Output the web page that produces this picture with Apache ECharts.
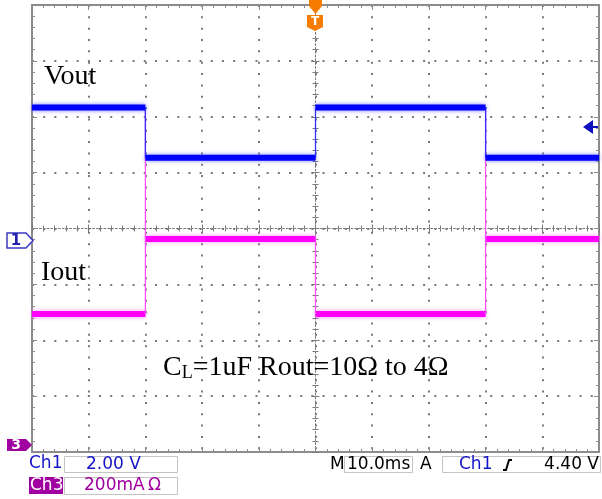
<!DOCTYPE html>
<html><head><meta charset="utf-8">
<script src="https://cdn.jsdelivr.net/npm/echarts@6/dist/echarts.min.js"></script>
<style>html,body{margin:0;padding:0;background:#fff}#c{width:602px;height:499px}</style>
</head><body><div id="c"></div>
<script>
// Segment boundaries, ms (10 ms/div, trigger at 0)
const edgesMs = [-50, -30, 0, 30, 50];
// Ch1: output voltage on each segment, V
const voutV = [4.75, 2.95, 4.75, 2.95];
// Ch3: output current on each segment, A
const ioutA = [0.468, 0.736, 0.468, 0.736];
// Ch3: current peak at each load step, A (null = no overshoot)
const ioutPeakA = [1.2, null, 1.2];

// Channel vertical settings: units per division and ground position in divisions
const ch1 = { scale: 2.0, offset: -0.21 };
const ch3 = { scale: 0.2, offset: -3.87 };

const toDiv = (v, ch) => ch.offset + v / ch.scale;

// Flat levels, broken at each step so the steps can be drawn thin
function levelData(levels, ch) {
  const out = [];
  levels.forEach((v, i) => {
    out.push([edgesMs[i], toDiv(v, ch)], [edgesMs[i + 1], toDiv(v, ch)], [edgesMs[i + 1], null]);
  });
  return out;
}
// Vertical step edges
function stepData(levels, ch, peaks) {
  const out = [];
  for (let j = 1; j < levels.length; j++) {
    const t = edgesMs[j];
    out.push([t, toDiv(levels[j - 1], ch)]);
    if (peaks && peaks[j - 1] != null) out.push([t, toDiv(peaks[j - 1], ch)]);
    out.push([t, toDiv(levels[j], ch)], [t, null]);
  }
  return out;
}

const GRID = '#7a7a7a';
const FRAME = '#8c8c8c';
const BLUE = '#0000ff';
const MAG = '#ff00ff';
const PURPLE = '#a000a0';
const ORANGE = '#f57c00';
const TXTBLUE = '#1414c8';

const frameX = (pos) => ({
  type: 'value', min: -50, max: 50, interval: 10, position: pos,
  axisLine: { show: true, onZero: false, lineStyle: { color: FRAME, width: 2 } },
  axisTick: { show: true, inside: true, length: 5, lineStyle: { color: FRAME, width: 1 } },
  minorTick: { show: true, splitNumber: 5, length: 3, lineStyle: { color: FRAME, width: 1 } },
  axisLabel: { show: false }, splitLine: { show: false }
});
const centerX = (pos) => ({
  type: 'value', min: -50, max: 50, interval: 10, position: pos,
  axisLine: { show: true, onZero: true, onZeroAxisIndex: 0, lineStyle: { color: GRID, width: 1, type: [1.5, 2.3] } },
  axisTick: { show: true, inside: true, length: 4, lineStyle: { color: GRID, width: 1 } },
  minorTick: { show: true, splitNumber: 5, length: 3, lineStyle: { color: GRID, width: 1 } },
  axisLabel: { show: false }, splitLine: { show: false }
});
const frameY = (pos) => ({
  type: 'value', min: -4, max: 4, interval: 1, position: pos,
  axisLine: { show: true, onZero: false, lineStyle: { color: FRAME, width: 2 } },
  axisTick: { show: true, inside: true, length: 5, lineStyle: { color: FRAME, width: 1 } },
  minorTick: { show: true, splitNumber: 5, length: 3, lineStyle: { color: FRAME, width: 1 } },
  axisLabel: { show: false }, splitLine: { show: false }
});
const centerY = (pos) => ({
  type: 'value', min: -4, max: 4, interval: 1, position: pos,
  axisLine: { show: true, onZero: true, onZeroAxisIndex: 0, lineStyle: { color: GRID, width: 1, type: [1.5, 2.3] } },
  axisTick: { show: true, inside: true, length: 4, lineStyle: { color: GRID, width: 1 } },
  minorTick: { show: true, splitNumber: 5, length: 3, lineStyle: { color: GRID, width: 1 } },
  axisLabel: { show: false }, splitLine: { show: false }
});

const xMain = frameX('bottom');
xMain.splitLine = { show: true, lineStyle: { color: GRID, width: 2, type: [2, 9.34], cap: 'butt' } };
const yMain = frameY('left');
yMain.splitLine = { show: true, lineStyle: { color: GRID, width: 2, type: [2, 9.175], cap: 'butt' } };

const band = (data, color, glow, z) => ({
  type: 'line', data, xAxisIndex: 0, yAxisIndex: 0, symbol: 'none', silent: true,
  connectNulls: false, z,
  lineStyle: { color, width: 6, shadowBlur: 4, shadowColor: glow }
});
const edge = (data, color, z) => ({
  type: 'line', data, xAxisIndex: 0, yAxisIndex: 0, symbol: 'none', silent: true,
  connectNulls: false, z, lineStyle: { color, width: 1.3 }
});

// Readout boxes and labels below the graticule
const font = (size, w) => `${w || 'normal'} ${size}px "DejaVu Sans", sans-serif`;
const box = (x, y, w, h) => ({ type: 'rect', shape: { x, y, width: w, height: h }, style: { fill: '#fff', stroke: '#c4c4c4', lineWidth: 1 }, z: 10 });
const txt = (x, y, text, fill, size, align, weight) => ({
  type: 'text', z: 20, style: { x, y, text, fill, font: font(size, weight), textAlign: align || 'left', textVerticalAlign: 'middle', verticalAlign: 'middle' }
});
const SERIF = '"Liberation Serif", "Times New Roman", serif';
const serif = (x, y, text) => ({
  type: 'text', z: 20, style: { x, y, text, fill: '#000', font: `28px ${SERIF}`, textVerticalAlign: 'middle', verticalAlign: 'middle' }
});

const graphic = [
  serif(44, 77, 'Vout'),
  serif(41, 273, 'Iout'),
  {
    type: 'text', z: 20,
    style: {
      x: 163, y: 368, textVerticalAlign: 'middle', verticalAlign: 'middle',
      text: '{a|C}{s|L}{a|=1uF Rout=10Ω to 4Ω}',
      rich: {
        a: { fontSize: 28, fontFamily: SERIF, fill: '#000', color: '#000' },
        s: { fontSize: 18, fontFamily: SERIF, fill: '#000', color: '#000', verticalAlign: 'bottom' }
      }
    }
  },
  // channel 1 ground marker
  { type: 'polygon', z: 12, shape: { points: [[7, 233], [26, 233], [33, 240.5], [26, 248], [7, 248]] }, style: { fill: '#fff', stroke: '#3838c0', lineWidth: 1.5 } },
  txt(16, 241, '1', '#2020b0', 15, 'center', 'bold'),
  // channel 3 ground marker
  { type: 'polygon', z: 12, shape: { points: [[7, 439], [26, 439], [32, 445], [26, 451], [7, 451]] }, style: { fill: PURPLE } },
  txt(16, 445.5, '3', '#fff', 14, 'center', 'bold'),
  // trigger position marker
  { type: 'polygon', z: 12, shape: { points: [[309, 0], [322, 0], [322, 6], [315.5, 14], [309, 6]] }, style: { fill: ORANGE } },
  { type: 'polygon', z: 12, shape: { points: [[307, 15], [323, 15], [323, 27], [315, 31], [307, 27]] }, style: { fill: ORANGE } },
  txt(315, 22, 'T', '#fff', 12, 'center', 'bold'),
  // trigger level marker
  { type: 'polygon', z: 12, shape: { points: [[583, 127], [593, 120], [593, 134]] }, style: { fill: '#1010c0' } },
  { type: 'line', z: 12, shape: { x1: 592, y1: 127, x2: 598, y2: 127 }, style: { stroke: '#1010c0', lineWidth: 2 } },
  // readouts
  txt(29, 464, 'Ch1', TXTBLUE, 17),
  box(64.5, 456.5, 113, 16),
  txt(86, 465, '2.00 V', TXTBLUE, 17),
  { type: 'rect', z: 10, shape: { x: 29, y: 477, width: 34, height: 17 }, style: { fill: PURPLE } },
  txt(30, 485.5, 'Ch3', '#fff', 17),
  box(64.5, 477.5, 113, 17),
  txt(84, 486, '200mA\u2009Ω', PURPLE, 17),
  txt(330, 465, 'M', '#000', 17),
  box(344.5, 456.5, 68, 16),
  txt(347, 465, '10.0ms', '#000', 17),
  txt(420, 465, 'A', '#000', 17),
  box(442.5, 456.5, 158, 16),
  txt(459, 465, 'Ch1', TXTBLUE, 17),
  { type: 'polyline', z: 20, shape: { points: [[503, 470], [506, 470], [509, 460], [512, 460]] }, style: { stroke: '#000', lineWidth: 2, fill: null } },
  txt(599, 465, '4.40 V', '#000', 17, 'right')
];

const chart = echarts.init(document.getElementById('c'), null, { renderer: 'canvas' });
chart.setOption({
  animation: false,
  backgroundColor: '#fff',
  grid: { left: 32, top: 5, right: 3, bottom: 47, show: false },
  xAxis: [xMain, frameX('top'), centerX('bottom'), centerX('top')],
  yAxis: [yMain, frameY('right'), centerY('left'), centerY('right')],
  series: [
    band(levelData(ioutA, ch3), MAG, 'rgba(255,110,255,0.8)', 3),
    edge(stepData(ioutA, ch3, ioutPeakA), '#ff50ff', 4),
    edge(stepData(voutV, ch1), '#3030ff', 5),
    band(levelData(voutV, ch1), BLUE, 'rgba(90,90,255,0.8)', 6)
  ],
  graphic
});
</script></body></html>
